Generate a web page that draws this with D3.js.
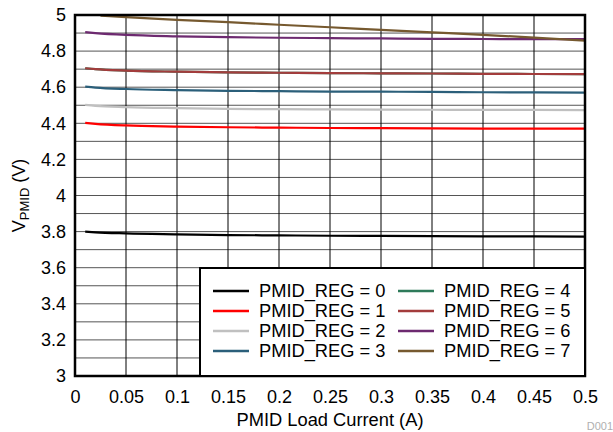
<!DOCTYPE html>
<html><head><meta charset="utf-8">
<script src="https://cdn.jsdelivr.net/npm/d3@7"></script>
<style>body{margin:0;background:#fff}svg{display:block}text{font-family:"Liberation Sans",Arial,sans-serif}</style>
</head><body><svg id="c" width="613" height="432"></svg>
<script>
const xs = [0.01, 0.02, 0.05, 0.1, 0.15, 0.2, 0.25, 0.3, 0.35, 0.4, 0.45, 0.5];
const reg0 = [3.800, 3.796, 3.790, 3.785, 3.781, 3.779, 3.777, 3.776, 3.775, 3.774, 3.773, 3.772];
const reg1 = [4.402, 4.397, 4.388, 4.382, 4.378, 4.376, 4.374, 4.373, 4.372, 4.371, 4.370, 4.370];
const reg2 = [4.502, 4.497, 4.490, 4.484, 4.480, 4.478, 4.477, 4.476, 4.475, 4.474, 4.474, 4.473];
const reg3 = [4.603, 4.598, 4.590, 4.584, 4.580, 4.578, 4.576, 4.575, 4.574, 4.572, 4.571, 4.570];
const reg4 = [4.705, 4.700, 4.692, 4.686, 4.682, 4.680, 4.678, 4.677, 4.676, 4.674, 4.673, 4.672];
const reg5 = [4.705, 4.700, 4.692, 4.686, 4.682, 4.680, 4.678, 4.677, 4.676, 4.674, 4.673, 4.672];
const reg6 = [4.905, 4.900, 4.890, 4.882, 4.877, 4.874, 4.872, 4.870, 4.868, 4.867, 4.866, 4.866];
const xs7 = [0.025, 0.05, 0.1, 0.15, 0.2, 0.25, 0.3, 0.35, 0.4, 0.45, 0.5];
const reg7 = [4.997, 4.988, 4.973, 4.960, 4.946, 4.932, 4.918, 4.904, 4.890, 4.875, 4.858];
const seriesNames = ["PMID_REG = 0","PMID_REG = 1","PMID_REG = 2","PMID_REG = 3","PMID_REG = 4","PMID_REG = 5","PMID_REG = 6","PMID_REG = 7"];
const seriesColors = ["#000000","#ff0000","#c0c0c0","#2b5f7a","#2e7a5a","#a33c3c","#6d2a70","#76592f"];
const xTicks = [0,0.05,0.1,0.15,0.2,0.25,0.3,0.35,0.4,0.45,0.5];
const yTicks = [3,3.2,3.4,3.6,3.8,4,4.2,4.4,4.6,4.8,5];
const yGrid = [3.1,3.2,3.3,3.4,3.5,3.6,3.7,3.8,3.9,4,4.1,4.2,4.3,4.4,4.5,4.6,4.7,4.8,4.9];

const series = [
  {x: xs, y: reg0}, {x: xs, y: reg1}, {x: xs, y: reg2}, {x: xs, y: reg3},
  {x: xs, y: reg4}, {x: xs, y: reg5}, {x: xs, y: reg6}, {x: xs7, y: reg7}
];

const L = 75, R = 585, T = 15, B = 376;
const svg = d3.select("#c");
const x = d3.scaleLinear().domain([0,0.5]).range([L,R]);
const y = d3.scaleLinear().domain([3,5]).range([B,T]);

// gridlines
svg.append("g").selectAll("line").data(yGrid).join("line")
  .attr("x1",L).attr("x2",R).attr("y1",d=>y(d)).attr("y2",d=>y(d))
  .attr("stroke","#555").attr("stroke-width",1);
svg.append("g").selectAll("line").data(xTicks.slice(1,-1)).join("line")
  .attr("x1",d=>x(d)).attr("x2",d=>x(d)).attr("y1",T).attr("y2",B)
  .attr("stroke","#000").attr("stroke-width",1);

// series (draw 4 before 5 so it is hidden)
const line = d3.line().x(d=>x(d[0])).y(d=>y(d[1])).curve(d3.curveMonotoneX);
series.forEach((s,i)=>{
  svg.append("path").datum(s.x.map((v,j)=>[v,s.y[j]]))
    .attr("d",line).attr("fill","none").attr("stroke",seriesColors[i]).attr("stroke-width",2.2);
});

// frame
svg.append("rect").attr("x",L).attr("y",T).attr("width",R-L).attr("height",B-T)
  .attr("fill","none").attr("stroke","#000").attr("stroke-width",2.5);

// axes
const xAxis = d3.axisBottom(x).tickValues(xTicks).tickSize(0).tickPadding(14).tickFormat(d=>d3.format("~g")(d));
const gx = svg.append("g").attr("transform",`translate(0,${B})`).call(xAxis);
gx.select(".domain").remove();
gx.selectAll("text").attr("font-size",18).attr("fill","#000").attr("font-family",'"Liberation Sans",Arial,sans-serif');
const yAxis = d3.axisLeft(y).tickValues(yTicks).tickSize(0).tickPadding(9).tickFormat(d=>d3.format("~g")(d));
const gy = svg.append("g").attr("transform",`translate(${L},0)`).call(yAxis);
gy.select(".domain").remove();
gy.selectAll("text").attr("font-size",18).attr("fill","#000").attr("font-family",'"Liberation Sans",Arial,sans-serif');

// titles
svg.append("text").attr("x",(L+R)/2).attr("y",426).attr("text-anchor","middle")
  .attr("font-size",18.3).text("PMID Load Current (A)");
const yt = svg.append("text").attr("transform",`translate(25,${(T+B)/2}) rotate(-90)`).attr("text-anchor","middle").attr("font-size",18);
yt.append("tspan").text("V");
yt.append("tspan").attr("font-size",13).attr("dy",4).text("PMID");
yt.append("tspan").attr("dy",-4).text(" (V)");

svg.append("text").attr("x",613).attr("y",430).attr("text-anchor","end")
  .attr("font-size",11).attr("fill","#b0b0b0").text("D001");

// legend
const lg = svg.append("g");
lg.append("rect").attr("x",200).attr("y",268).attr("width",385).attr("height",108)
  .attr("fill","#fff").attr("stroke","#000").attr("stroke-width",2);
seriesNames.forEach((n,i)=>{
  const col = Math.floor(i/4), row = i%4;
  const lx = col ? 398 : 213, cy = 291 + row*20;
  lg.append("line").attr("x1",lx).attr("x2",lx+36).attr("y1",cy).attr("y2",cy)
    .attr("stroke",seriesColors[i]).attr("stroke-width",2.5);
  lg.append("text").attr("x",lx+46).attr("y",cy+6).attr("font-size",18.3).text(n);
});
</script></body></html>
